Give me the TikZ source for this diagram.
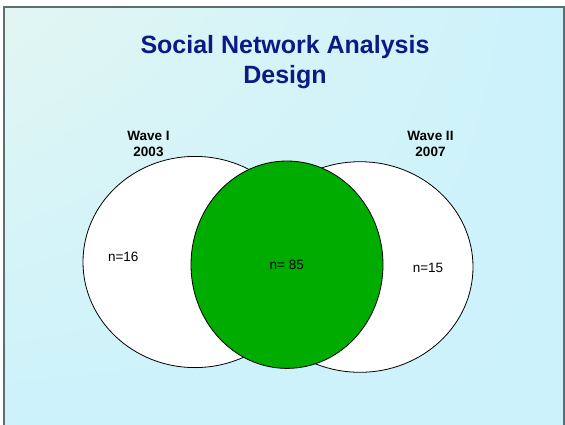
\documentclass[tikz,border=0pt]{standalone}
\usepackage{fontspec}
\setmainfont{Liberation Sans}
\usetikzlibrary{shadings}
\definecolor{mintbg}{HTML}{E2F6F2}
\definecolor{cyanbg}{HTML}{CCF2FC}
\definecolor{edgegrey}{HTML}{5E6E70}
\definecolor{titleblue}{HTML}{0E1A84}
\definecolor{vgreen}{HTML}{00AC00}
\tikzset{
  wavebox/.style={draw=black, line width=0.8pt, fill=white},
  greenbox/.style={draw=black, line width=0.8pt, fill=vgreen},
  wavelabel/.style={font=\fontsize{13.5}{16}\selectfont\bfseries, align=center, inner sep=0pt},
  countlabel/.style={font=\fontsize{13.5}{16}\selectfont, inner sep=0pt},
}
\begin{document}
\begin{tikzpicture}[x=1pt,y=-1pt]
\useasboundingbox (0,0) rectangle (565,424);
\fill[white] (0,0) rectangle (565,424);
\shade[upper left=mintbg, upper right=cyanbg, lower left=cyanbg, lower right=cyanbg]
  (4,7) rectangle (564,430);
\draw[edgegrey, line width=1.3pt] (4,430) -- (4,7) -- (564,7) -- (564,430);
% title
\node[font=\fontsize{25}{30.6}\selectfont\bfseries, text=titleblue, align=center, inner sep=0pt]
  (title) at (285,62) {Social Network Analysis\\Design};
% ellipses
\draw[wavebox] (195,262) ellipse [x radius=112, y radius=105.6];
\draw[wavebox] (360,267) ellipse [x radius=113, y radius=105.3];
\draw[greenbox] (287,264.7) ellipse [x radius=96, y radius=103.7];
% labels
\node[wavelabel] (w1) at (148.5,144) {Wave I\\2003};
\node[wavelabel] (w2) at (430.5,144) {Wave II\\2007};
\node[countlabel] (n16) at (123.3,257) {n=16};
\node[countlabel] (n85) at (286.8,265) {n= 85};
\node[countlabel] (n15) at (428,267.5) {n=15};
\end{tikzpicture}
\end{document}
